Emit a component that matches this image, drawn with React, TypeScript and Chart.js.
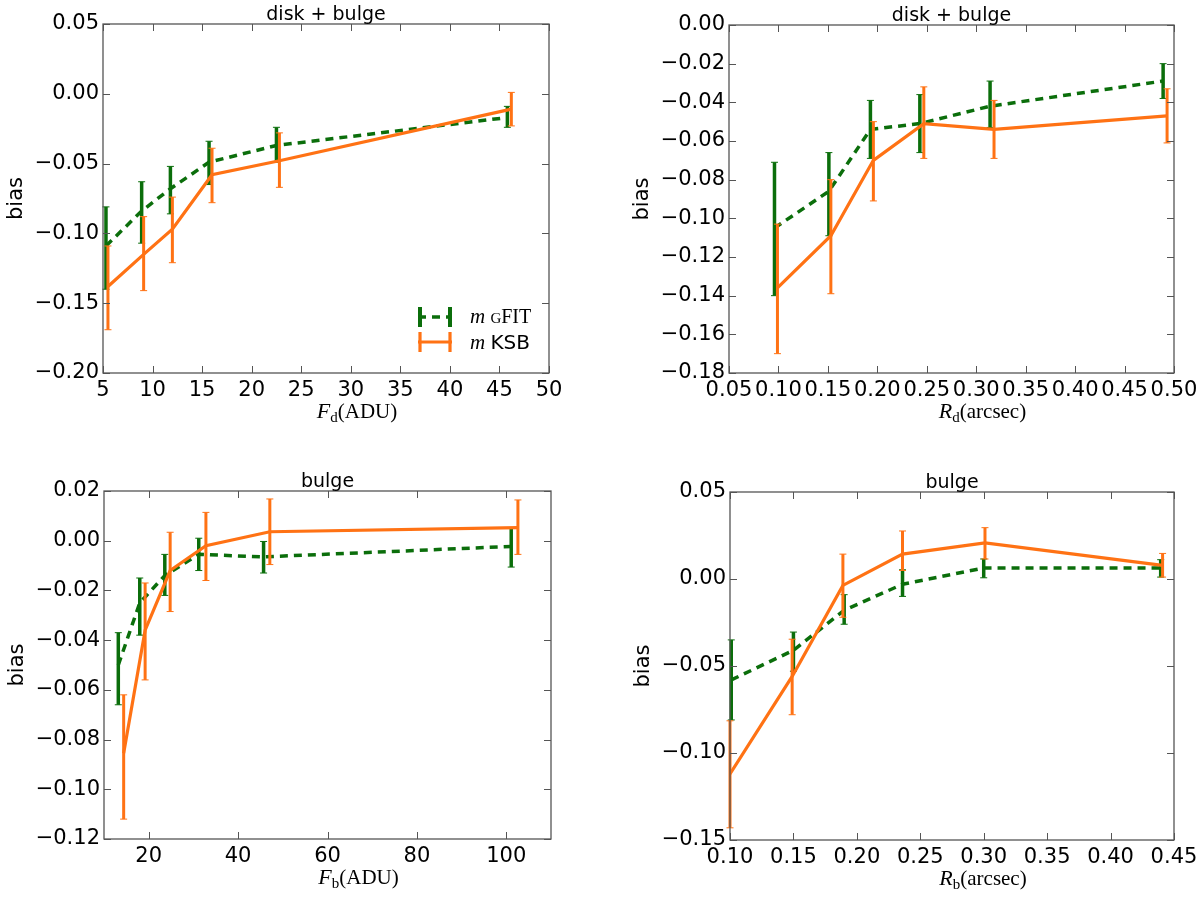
import { useEffect, useRef } from 'react';
import { Chart, registerables } from 'chart.js';

Chart.register(...registerables);

const GREEN = '#0b6e0b';
const ORANGE = '#ff7214';
const FRAME = '#555555';
const SANS = '"DejaVu Sans", sans-serif';
const SERIF = '"Liberation Serif", "DejaVu Serif", serif';

// disk + bulge, bias vs F_d
const fdGfitX = [5.3, 8.9, 11.8, 15.7, 22.5, 45.8];
const fdGfitY = [-0.109, -0.084, -0.068, -0.049, -0.037, -0.017];
const fdGfitLo = [-0.14, -0.107, -0.086, -0.065, -0.049, -0.024];
const fdGfitHi = [-0.081, -0.063, -0.052, -0.034, -0.024, -0.009];
const fdKsbX = [5.5, 9.1, 12.0, 16.0, 22.8, 46.2];
const fdKsbY = [-0.138, -0.115, -0.097, -0.058, -0.048, -0.011];
const fdKsbLo = [-0.169, -0.141, -0.121, -0.078, -0.067, -0.023];
const fdKsbHi = [-0.109, -0.088, -0.074, -0.039, -0.028, 0.001];
const fdXTicks = [5, 10, 15, 20, 25, 30, 35, 40, 45, 50];
const fdYTicks = [-0.2, -0.15, -0.1, -0.05, 0, 0.05];

// disk + bulge, bias vs R_d
const rdGfitX = [0.096, 0.151, 0.193, 0.243, 0.314, 0.489];
const rdGfitY = [-0.105, -0.086, -0.054, -0.051, -0.042, -0.029];
const rdGfitLo = [-0.14, -0.109, -0.069, -0.066, -0.053, -0.038];
const rdGfitHi = [-0.071, -0.066, -0.039, -0.036, -0.029, -0.02];
const rdKsbX = [0.099, 0.153, 0.196, 0.247, 0.318, 0.493];
const rdKsbY = [-0.136, -0.109, -0.07, -0.051, -0.054, -0.047];
const rdKsbLo = [-0.17, -0.139, -0.091, -0.069, -0.069, -0.061];
const rdKsbHi = [-0.103, -0.08, -0.05, -0.032, -0.039, -0.033];
const rdXTicks = [0.05, 0.1, 0.15, 0.2, 0.25, 0.3, 0.35, 0.4, 0.45, 0.5];
const rdYTicks = [-0.18, -0.16, -0.14, -0.12, -0.1, -0.08, -0.06, -0.04, -0.02, 0];

// bulge, bias vs F_b
const fbGfitX = [13.2, 18.0, 23.6, 31.2, 45.7, 101.1];
const fbGfitY = [-0.05, -0.025, -0.014, -0.0055, -0.0065, -0.0023];
const fbGfitLo = [-0.066, -0.038, -0.022, -0.012, -0.013, -0.0106];
const fbGfitHi = [-0.037, -0.015, -0.0055, 0.001, -0.0003, 0.0053];
const fbKsbX = [14.4, 19.2, 24.8, 32.8, 47.1, 102.6];
const fbKsbY = [-0.0855, -0.036, -0.012, -0.002, 0.0036, 0.0053];
const fbKsbLo = [-0.112, -0.056, -0.0285, -0.016, -0.0096, -0.0055];
const fbKsbHi = [-0.062, -0.017, 0.0034, 0.0114, 0.0168, 0.0164];
const fbXTicks = [20, 40, 60, 80, 100];
const fbYTicks = [-0.12, -0.1, -0.08, -0.06, -0.04, -0.02, 0, 0.02];

// bulge, bias vs R_b
const rbGfitX = [0.101, 0.15, 0.19, 0.236, 0.3, 0.4395];
const rbGfitY = [-0.058, -0.041, -0.018, -0.003, 0.0063, 0.0063];
const rbGfitLo = [-0.081, -0.053, -0.026, -0.01, 0.0007, 0.0011];
const rbGfitHi = [-0.035, -0.0305, -0.009, 0.0053, 0.0115, 0.0111];
const rbKsbX = [0.1, 0.149, 0.189, 0.236, 0.301, 0.441];
const rbKsbY = [-0.112, -0.056, -0.0037, 0.0143, 0.0207, 0.0078];
const rbKsbLo = [-0.143, -0.078, -0.022, 0.0049, 0.0115, 0.0011];
const rbKsbHi = [-0.0815, -0.0346, 0.0143, 0.0276, 0.0295, 0.0147];
const rbXTicks = [0.1, 0.15, 0.2, 0.25, 0.3, 0.35, 0.4, 0.45];
const rbYTicks = [-0.15, -0.1, -0.05, 0, 0.05];

type Series = { x: number[]; y: number[]; lo: number[]; hi: number[] };

type PanelProps = {
  box: number[]; // canvas left, top, width, height
  inset: number[]; // frame inset left, top, right, bottom
  title: string;
  xSym: string;
  xSub: string;
  xUnit: string;
  xTicks: number[];
  xMin: number;
  xMax: number;
  xDigits: number;
  yTicks: number[];
  yDigits: number;
  gfit: Series;
  ksb: Series;
  legend?: boolean;
};

const fmt = (v: number, d: number) => {
  const s = Math.abs(v) < 1e-9 ? (0).toFixed(d) : v.toFixed(d);
  return s.replace('-', '\u2212');
};

function drawLegend(ctx: CanvasRenderingContext2D, a: any) {
  const x0 = a.right - 131;
  const x1 = a.right - 97;
  const yG = a.bottom - 56;
  const yK = a.bottom - 31;

  ctx.strokeStyle = GREEN;
  ctx.lineWidth = 3.5;
  ctx.setLineDash([8, 6]);
  ctx.beginPath();
  ctx.moveTo(x0, yG);
  ctx.lineTo(x1, yG);
  ctx.stroke();
  ctx.setLineDash([]);
  ctx.lineWidth = 4;
  ctx.beginPath();
  ctx.moveTo(x0 + 2, yG - 10);
  ctx.lineTo(x0 + 2, yG + 10);
  ctx.moveTo(x1 - 2, yG - 10);
  ctx.lineTo(x1 - 2, yG + 10);
  ctx.stroke();

  ctx.strokeStyle = ORANGE;
  ctx.lineWidth = 3.2;
  ctx.beginPath();
  ctx.moveTo(x0, yK);
  ctx.lineTo(x1, yK);
  ctx.moveTo(x0 + 2, yK - 10);
  ctx.lineTo(x0 + 2, yK + 10);
  ctx.moveTo(x1 - 2, yK - 10);
  ctx.lineTo(x1 - 2, yK + 10);
  ctx.stroke();

  ctx.fillStyle = '#000';
  ctx.textAlign = 'left';
  ctx.textBaseline = 'alphabetic';
  let tx = a.right - 79;
  ctx.font = `italic 21px ${SERIF}`;
  ctx.fillText('m', tx, yG + 6);
  tx += ctx.measureText('m ').width;
  ctx.font = `15px ${SERIF}`;
  ctx.fillText('G', tx, yG + 6);
  tx += ctx.measureText('G').width;
  ctx.font = `20px ${SERIF}`;
  ctx.fillText('FIT', tx, yG + 6);

  tx = a.right - 79;
  ctx.font = `italic 21px ${SERIF}`;
  ctx.fillText('m', tx, yK + 7);
  tx += ctx.measureText('m ').width;
  ctx.font = `20px ${SANS}`;
  ctx.fillText('KSB', tx, yK + 7);
}

function Panel(p: PanelProps) {
  const canvasRef = useRef<HTMLCanvasElement | null>(null);
  const chartRef = useRef<Chart | null>(null);

  useEffect(() => {
    if (!canvasRef.current) return;
    if (chartRef.current) chartRef.current.destroy();

    const [insL, insT, insR, insB] = p.inset;

    const errorBars = {
      id: 'errorBars',
      afterDatasetDraw(chart: any, args: any) {
        const ds = chart.data.datasets[args.index];
        const xs = chart.scales.x;
        const ys = chart.scales.y;
        const ctx = chart.ctx as CanvasRenderingContext2D;
        ctx.save();
        ctx.strokeStyle = ds.borderColor;
        ds.data.forEach((pt: any, i: number) => {
          const px = xs.getPixelForValue(pt.x);
          const top = ys.getPixelForValue(ds.errHi[i]);
          const bot = ys.getPixelForValue(ds.errLo[i]);
          ctx.lineWidth = ds.errWidth;
          ctx.beginPath();
          ctx.moveTo(px, top);
          ctx.lineTo(px, bot);
          ctx.stroke();
          ctx.lineWidth = 1;
          ctx.beginPath();
          ctx.moveTo(px - 3.5, top);
          ctx.lineTo(px + 3.5, top);
          ctx.moveTo(px - 3.5, bot);
          ctx.lineTo(px + 3.5, bot);
          ctx.stroke();
        });
        ctx.restore();
      },
    };

    const decor = {
      id: 'decor',
      afterDraw(chart: any) {
        const ctx = chart.ctx as CanvasRenderingContext2D;
        const a = chart.chartArea;
        const xs = chart.scales.x;
        const ys = chart.scales.y;
        ctx.save();
        // inward ticks on all four sides
        ctx.strokeStyle = FRAME;
        ctx.lineWidth = 1;
        ctx.beginPath();
        xs.ticks.forEach((t: any) => {
          const px = Math.round(xs.getPixelForValue(t.value)) + 0.5;
          ctx.moveTo(px, a.bottom);
          ctx.lineTo(px, a.bottom - 7);
          ctx.moveTo(px, a.top);
          ctx.lineTo(px, a.top + 7);
        });
        ys.ticks.forEach((t: any) => {
          const py = Math.round(ys.getPixelForValue(t.value)) + 0.5;
          ctx.moveTo(a.left, py);
          ctx.lineTo(a.left + 7, py);
          ctx.moveTo(a.right, py);
          ctx.lineTo(a.right - 7, py);
        });
        ctx.stroke();
        ctx.lineWidth = 1.3;
        ctx.strokeRect(a.left, a.top, a.right - a.left, a.bottom - a.top);

        // title
        ctx.fillStyle = '#000';
        ctx.textAlign = 'center';
        ctx.textBaseline = 'alphabetic';
        ctx.font = `19px ${SANS}`;
        ctx.fillText(p.title, (a.left + a.right) / 2, a.top - 4);

        // y label
        ctx.save();
        ctx.translate(a.left - 86, (a.top + a.bottom) / 2);
        ctx.rotate(-Math.PI / 2);
        ctx.textBaseline = 'middle';
        ctx.font = `21px ${SANS}`;
        ctx.fillText('bias', 0, 0);
        ctx.restore();

        // x label: italic symbol, roman subscript, unit
        const base = a.bottom + 45;
        ctx.textAlign = 'left';
        ctx.font = `italic 22px ${SERIF}`;
        const w1 = ctx.measureText(p.xSym).width;
        ctx.font = `15px ${SERIF}`;
        const w2 = ctx.measureText(p.xSub).width;
        ctx.font = `21px ${SERIF}`;
        const w3 = ctx.measureText(p.xUnit).width;
        let lx = (a.left + a.right) / 2 + 31 - (w1 + w2 + w3) / 2;
        ctx.font = `italic 22px ${SERIF}`;
        ctx.fillText(p.xSym, lx, base);
        lx += w1;
        ctx.font = `15px ${SERIF}`;
        ctx.fillText(p.xSub, lx, base + 4);
        lx += w2;
        ctx.font = `21px ${SERIF}`;
        ctx.fillText(p.xUnit, lx, base);

        if (p.legend) drawLegend(ctx, a);
        ctx.restore();
      },
    };

    const toPts = (s: Series) => s.x.map((x, i) => ({ x, y: s.y[i] }));

    chartRef.current = new Chart(canvasRef.current, {
      type: 'line',
      data: {
        datasets: [
          {
            label: 'm KSB',
            data: toPts(p.ksb),
            borderColor: ORANGE,
            borderWidth: 3.2,
            pointRadius: 0,
            tension: 0,
            errLo: p.ksb.lo,
            errHi: p.ksb.hi,
            errWidth: 3,
          } as any,
          {
            label: 'm GFIT',
            data: toPts(p.gfit),
            borderColor: GREEN,
            borderWidth: 3.5,
            borderDash: [8, 6],
            pointRadius: 0,
            tension: 0,
            errLo: p.gfit.lo,
            errHi: p.gfit.hi,
            errWidth: 3.5,
          } as any,
        ],
      },
      options: {
        animation: false,
        responsive: true,
        maintainAspectRatio: false,
        layout: { padding: { left: 0, top: insT, right: insR, bottom: 0 } },
        plugins: {
          legend: { display: false },
          title: { display: false },
          tooltip: { enabled: false },
        },
        scales: {
          x: {
            type: 'linear',
            min: p.xMin,
            max: p.xMax,
            grid: { display: false, drawTicks: false },
            border: { display: false },
            afterBuildTicks: (s: any) => {
              s.ticks = p.xTicks.map((v) => ({ value: v }));
            },
            afterFit: (s: any) => {
              s.height = insB;
              s.paddingLeft = 0;
              s.paddingRight = 0;
            },
            ticks: {
              autoSkip: false,
              maxRotation: 0,
              minRotation: 0,
              padding: 5,
              color: '#000',
              font: { family: SANS, size: 21 },
              callback: (v: any) => fmt(Number(v), p.xDigits),
            },
          },
          y: {
            type: 'linear',
            min: p.yTicks[0],
            max: p.yTicks[p.yTicks.length - 1],
            grid: { display: false, drawTicks: false },
            border: { display: false },
            afterBuildTicks: (s: any) => {
              s.ticks = p.yTicks.map((v) => ({ value: v }));
            },
            afterFit: (s: any) => {
              s.width = insL;
              s.paddingTop = 0;
              s.paddingBottom = 0;
            },
            ticks: {
              autoSkip: false,
              padding: 4,
              color: '#000',
              font: { family: SANS, size: 21 },
              callback: (v: any) => fmt(Number(v), p.yDigits),
            },
          },
        },
      },
      plugins: [errorBars, decor],
    });

    return () => {
      if (chartRef.current) {
        chartRef.current.destroy();
        chartRef.current = null;
      }
    };
  }, []);

  const [l, t, w, h] = p.box;
  return (
    <div style={{ position: 'absolute', left: l, top: t, width: w, height: h }}>
      <canvas ref={canvasRef} />
    </div>
  );
}

export default function App() {
  return (
    <div
      style={{
        position: 'absolute',
        left: 0,
        top: 0,
        width: 1200,
        height: 898,
        background: '#fff',
        overflow: 'hidden',
      }}
    >
      <Panel
        box={[0, 0, 600, 449]}
        inset={[103, 24, 51, 76]}
        title="disk + bulge"
        xSym="F"
        xSub="d"
        xUnit="(ADU)"
        xTicks={fdXTicks}
        xMin={5}
        xMax={50}
        xDigits={0}
        yTicks={fdYTicks}
        yDigits={2}
        gfit={{ x: fdGfitX, y: fdGfitY, lo: fdGfitLo, hi: fdGfitHi }}
        ksb={{ x: fdKsbX, y: fdKsbY, lo: fdKsbLo, hi: fdKsbHi }}
        legend
      />
      <Panel
        box={[600, 0, 600, 449]}
        inset={[129, 25, 26, 76]}
        title="disk + bulge"
        xSym="R"
        xSub="d"
        xUnit="(arcsec)"
        xTicks={rdXTicks}
        xMin={0.05}
        xMax={0.5}
        xDigits={2}
        yTicks={rdYTicks}
        yDigits={2}
        gfit={{ x: rdGfitX, y: rdGfitY, lo: rdGfitLo, hi: rdGfitHi }}
        ksb={{ x: rdKsbX, y: rdKsbY, lo: rdKsbLo, hi: rdKsbHi }}
      />
      <Panel
        box={[0, 449, 600, 449]}
        inset={[104, 42, 49, 59]}
        title="bulge"
        xSym="F"
        xSub="b"
        xUnit="(ADU)"
        xTicks={fbXTicks}
        xMin={10}
        xMax={110}
        xDigits={0}
        yTicks={fbYTicks}
        yDigits={2}
        gfit={{ x: fbGfitX, y: fbGfitY, lo: fbGfitLo, hi: fbGfitHi }}
        ksb={{ x: fbKsbX, y: fbKsbY, lo: fbKsbLo, hi: fbKsbHi }}
      />
      <Panel
        box={[600, 449, 600, 449]}
        inset={[130, 43, 26, 58]}
        title="bulge"
        xSym="R"
        xSub="b"
        xUnit="(arcsec)"
        xTicks={rbXTicks}
        xMin={0.1}
        xMax={0.45}
        xDigits={2}
        yTicks={rbYTicks}
        yDigits={2}
        gfit={{ x: rbGfitX, y: rbGfitY, lo: rbGfitLo, hi: rbGfitHi }}
        ksb={{ x: rbKsbX, y: rbKsbY, lo: rbKsbLo, hi: rbKsbHi }}
      />
    </div>
  );
}
